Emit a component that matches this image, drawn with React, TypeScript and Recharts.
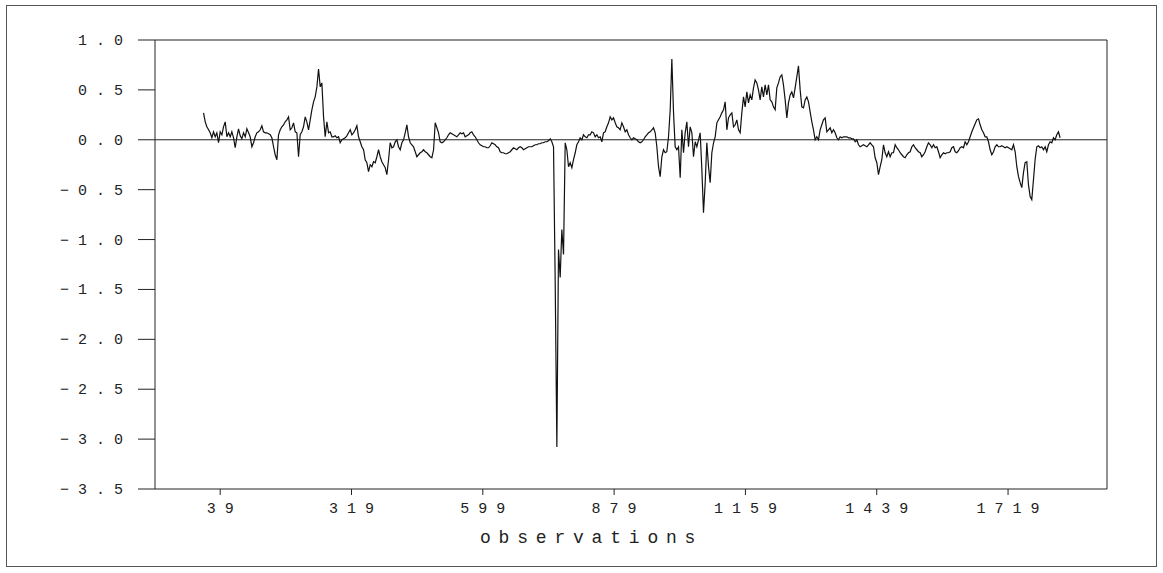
import { LineChart, Line, XAxis, YAxis, ReferenceLine } from 'recharts';

// observation axis ticks and value ticks
const xTicks = [39, 319, 599, 879, 1159, 1439, 1719];
const yTicks = [1, 0.5, 0, -0.5, -1, -1.5, -2, -2.5, -3, -3.5];

const STEP = 3.554;

// obs ~3 .. 505
const startA = 3.5;
const segA = [
  0.27, 0.18, 0.13, 0.1, 0.07, 0.02, 0.08, 0.03, 0.07, -0.03,
  0.08, 0.05, 0.13, 0.18, 0.03, 0.07, 0.03, 0.08, 0.02, -0.08,
  0.03, 0.11, 0.04, 0.01, 0.07, 0.03, 0.11, 0.07, 0.03, -0.07,
  -0.03, 0.03, 0.07, 0.08, 0.1, 0.14, 0.08, 0.07, 0.07, 0.06,
  0.05, 0.02, -0.07, -0.15, -0.2, 0.05, 0.1, 0.13, 0.15, 0.18,
  0.2, 0.23, 0.1, 0.12, 0.17, 0.08, 0.07, -0.17, 0.05, 0.08,
  0.13, 0.23, 0.18, 0.1, 0.2, 0.3, 0.38, 0.43, 0.53, 0.71,
  0.53, 0.57, 0.23, 0.03, 0.18, 0.07, 0.08, 0.03, 0.03, 0.04,
  0.02, 0.03, -0.03, 0.0, 0.01, 0.02, 0.04, 0.07, 0.1, 0.05,
  0.07, 0.1, 0.14, 0.03, -0.02, -0.07, -0.1, -0.2, -0.23, -0.32,
  -0.25, -0.27, -0.22, -0.23, -0.17, -0.1, -0.17, -0.22, -0.25, -0.28,
  -0.35, -0.2, -0.03, -0.08, -0.07, -0.02, 0.0, -0.07, -0.1, -0.03,
  0.0, 0.07, 0.15, 0.03, -0.03, -0.05, -0.07, -0.12, -0.17, -0.15,
  -0.13, -0.12, -0.1, -0.12, -0.13, -0.15, -0.17, -0.18, -0.1, 0.17,
  0.12, 0.07,
];

// obs ~508 .. 1148
const startB = 508.1;
const segB = [
  -0.02, -0.03, -0.02, 0.0, 0.02, 0.05, 0.07, 0.06, 0.05, 0.04,
  0.03, 0.05, 0.07, 0.06, 0.07, 0.03, 0.04, 0.05, 0.07, 0.08,
  0.05, 0.03, 0.0, -0.03, -0.05, -0.06, -0.07, -0.07, -0.08, -0.08,
  -0.06, -0.03, -0.04, -0.05, -0.07, -0.08, -0.12, -0.13, -0.13, -0.14,
  -0.14, -0.13, -0.12, -0.1, -0.08, -0.09, -0.1, -0.08, -0.07, -0.08,
  -0.1, -0.09, -0.08, -0.07, -0.07, -0.07, -0.06, -0.05, -0.05, -0.04,
  -0.04, -0.03, -0.03, -0.02, -0.02, -0.01, 0.01, -0.02, -0.07, -1.4,
  -3.08, -1.1, -1.38, -0.9, -1.15, -0.03, -0.1, -0.27, -0.23, -0.28,
  -0.2, -0.13, -0.05, -0.02, 0.02, 0.0, 0.05, 0.03, 0.02, 0.05,
  0.05, 0.08, 0.07, 0.03, 0.05, 0.02, 0.03, -0.02, 0.07, 0.08,
  0.13, 0.17, 0.23, 0.2, 0.22, 0.17, 0.13, 0.12, 0.1, 0.17,
  0.13, 0.08, 0.1, 0.05, 0.02, 0.0, 0.02, 0.01, 0.0, -0.02,
  -0.03, -0.02, 0.0, 0.03, 0.05, 0.07, 0.08, 0.1, 0.12, 0.07,
  -0.07, -0.27, -0.37, -0.17, -0.1, -0.13, -0.12, 0.03, 0.3, 0.81,
  0.27, -0.07, -0.1, -0.07, -0.38, 0.1, -0.13, 0.07, 0.18, -0.07,
  0.13, 0.07, -0.17, -0.02, -0.07, 0.0, 0.07, -0.3, -0.73, -0.43,
  -0.03, -0.27, -0.43, -0.13, -0.03, 0.03, 0.17, 0.2, 0.23, 0.27,
  0.3, 0.38, 0.1, 0.22, 0.25, 0.27, 0.13, 0.15, 0.2, 0.1,
  0.07,
];

// obs ~1151 .. 1745
const startC = 1151.3;
const segC = [
  0.27, 0.43, 0.33, 0.48, 0.37, 0.45, 0.4, 0.52, 0.6, 0.57,
  0.5, 0.4, 0.53, 0.43, 0.55, 0.45, 0.55, 0.4, 0.38, 0.33,
  0.3, 0.52, 0.57, 0.63, 0.65, 0.55, 0.4, 0.22, 0.37, 0.45,
  0.48, 0.42, 0.52, 0.63, 0.74, 0.5, 0.33, 0.32, 0.4, 0.43,
  0.38, 0.28, 0.18, 0.1, 0.0, 0.03, 0.0, 0.1, 0.15, 0.2,
  0.22, 0.08, 0.1, 0.12, 0.07, 0.1, 0.07, 0.02, 0.0, 0.03,
  0.02, 0.03, 0.03, 0.03, 0.02, 0.02, 0.01, 0.01, -0.02, 0.0,
  -0.05, -0.07, -0.06, -0.05, -0.06, -0.07, -0.05, -0.03, -0.05, -0.07,
  -0.18, -0.23, -0.35, -0.27, -0.2, -0.05, -0.13, -0.17, -0.12, -0.17,
  -0.13, -0.13, -0.05, -0.08, -0.1, -0.13, -0.15, -0.17, -0.18, -0.15,
  -0.13, -0.12, -0.07, -0.05, -0.08, -0.1, -0.12, -0.13, -0.17, -0.15,
  -0.12, -0.07, -0.03, -0.05, -0.08, -0.05, -0.08, -0.07, -0.12, -0.18,
  -0.15, -0.13, -0.14, -0.13, -0.13, -0.12, -0.08, -0.07, -0.12, -0.13,
  -0.11, -0.08, -0.07, -0.08, -0.02, -0.05, -0.02, 0.03, 0.08, 0.12,
  0.16, 0.2, 0.21, 0.15, 0.1, 0.07, 0.03, 0.03, -0.02, -0.1,
  -0.15, -0.12, -0.07, -0.05, -0.07, -0.07, -0.06, -0.07, -0.08, -0.07,
  -0.08, -0.09, -0.1, -0.05, -0.12, -0.27, -0.37, -0.43,
];

// obs ~1748 .. 1830
const startD = 1748.3;
const segD = [
  -0.48, -0.33, -0.23, -0.22, -0.45, -0.57, -0.6, -0.4, -0.2, -0.07,
  -0.06, -0.08, -0.07, -0.1, -0.07, -0.12, -0.05, -0.02, -0.03, 0.02,
  0.0, 0.05, 0.08, 0.02,
];

const build = (start: number, vals: number[]) =>
  vals.map((v, i) => ({ obs: Math.round((start + i * STEP) * 10) / 10, v }));

const data = [
  ...build(startA, segA),
  ...build(startB, segB),
  ...build(startC, segC),
  ...build(startD, segD),
];

const FONT = '"Liberation Mono", "DejaVu Sans Mono", monospace';
const LS = 9;

const fmt = (v: number) => {
  const s = Math.abs(v).toFixed(1);
  return v < 0 ? '\u2212' + s : s;
};

const YTick = (props: any) => {
  const { x, y, payload } = props;
  return (
    <text x={x} y={y} dx={LS} dy={5} textAnchor="end" fontFamily={FONT} fontSize={15}
      letterSpacing={LS} fill="#222">
      {fmt(payload.value)}
    </text>
  );
};

const XTick = (props: any) => {
  const { x, y, payload } = props;
  return (
    <text x={x} y={y} dx={LS / 2} dy={16} textAnchor="middle" fontFamily={FONT} fontSize={15}
      letterSpacing={LS} fill="#222">
      {payload.value}
    </text>
  );
};

export default function App() {
  return (
    <div style={{ position: 'absolute', left: 0, top: 0, width: 1163, height: 573, background: '#fff' }}>
      <div style={{
        position: 'absolute', left: 6, top: 5, width: 1151, height: 562,
        border: '1px solid #555', boxSizing: 'border-box',
      }} />
      <LineChart width={1163} height={573} data={data}
        margin={{ top: 40, right: 56, bottom: 54, left: 95 }}>
        <XAxis dataKey="obs" type="number" domain={[-100, 1930]} ticks={xTicks}
          allowDataOverflow height={30} tickSize={6} tick={<XTick />}
          axisLine={{ stroke: '#222' }} tickLine={{ stroke: '#222' }} />
        <YAxis type="number" domain={[-3.5, 1]} ticks={yTicks} allowDataOverflow width={60}
          tickSize={17} tickMargin={15} tick={<YTick />} interval={0}
          axisLine={{ stroke: '#222' }} tickLine={{ stroke: '#222' }} />
        <ReferenceLine y={1} stroke="#222" />
        <ReferenceLine x={1930} stroke="#222" />
        <ReferenceLine y={0} stroke="#222" />
        <Line type="linear" dataKey="v" stroke="#111" strokeWidth={1.2} dot={false}
          isAnimationActive={false} />
      </LineChart>
      <div style={{
        position: 'absolute', left: 480, top: 528, width: 200, textAlign: 'center',
        fontFamily: FONT, fontSize: 18, letterSpacing: 7.8, color: '#222',
        lineHeight: '20px', whiteSpace: 'nowrap',
      }}>
        observations
      </div>
    </div>
  );
}
